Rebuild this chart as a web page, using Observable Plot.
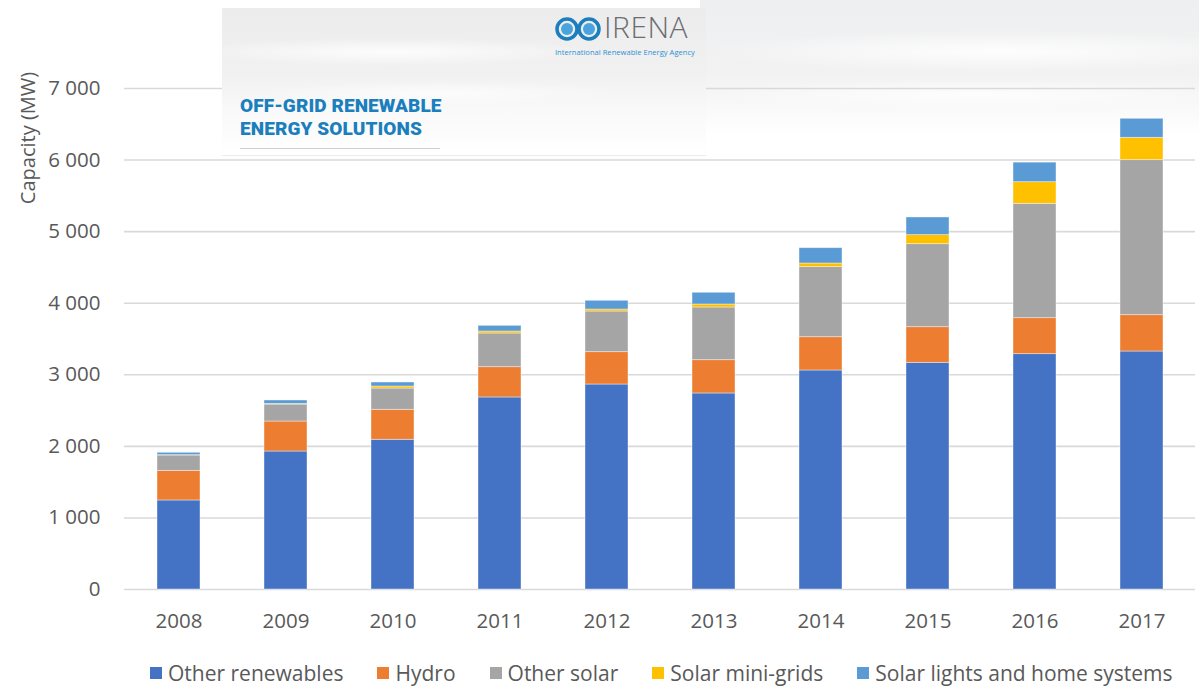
<!DOCTYPE html>
<html>
<head>
<meta charset="utf-8">
<script src="https://cdn.jsdelivr.net/npm/d3@7"></script>
<script src="https://cdn.jsdelivr.net/npm/@observablehq/plot@0.6"></script>
<style>
  html, body { margin: 0; padding: 0; background: #ffffff; }
  body { width: 1199px; height: 686px; position: relative; overflow: hidden; font-family: "Open Sans", sans-serif; }
  #bgwave { position: absolute; left: 700px; top: 0; width: 499px; height: 135px;
    background:
      radial-gradient(ellipse 420px 30px at 60% 38%, rgba(255,255,255,0.9), rgba(255,255,255,0) 70%),
      radial-gradient(ellipse 380px 22px at 55% 70%, rgba(255,255,255,0.8), rgba(255,255,255,0) 70%),
      linear-gradient(180deg, #eeeff0 0%, #f2f2f3 55%, #ffffff 100%);
    z-index: 0; }
  #chart { position: absolute; left: 0; top: 0; z-index: 1; }
  #banner { position: absolute; left: 222px; top: 8px; width: 484px; height: 147px; z-index: 2;
    background:
      radial-gradient(ellipse 300px 20px at 35% 30%, rgba(255,255,255,0.85), rgba(255,255,255,0) 70%),
      radial-gradient(ellipse 260px 18px at 45% 58%, rgba(255,255,255,0.7), rgba(255,255,255,0) 70%),
      linear-gradient(180deg, #ececed 0%, #f1f1f2 45%, #f9f9f9 70%, #ffffff 100%);
    border-bottom: 1px solid #ececec; }
  #title1, #title2 { position: absolute; left: 18px; font-family: Roboto, sans-serif; font-weight: 900;
    font-size: 19px; line-height: 20px; color: #1b7fbd; letter-spacing: 0.1px; white-space: nowrap; }
  #title1 { top: 88px; }
  #title2 { top: 111px; }
  #uline { position: absolute; left: 18px; top: 140px; width: 200px; height: 1px; background: #cfcfcf; }
  #logo { position: absolute; left: 332px; top: 8px; }
  #irena { position: absolute; left: 382px; top: 3.5px; font-family: "Open Sans", sans-serif; font-weight: 300;
    font-size: 30px; line-height: 30px; color: #6b6d70; letter-spacing: 0.5px; }
  #agency { position: absolute; left: 333px; top: 40px; font-family: "Open Sans", sans-serif; font-size: 7.6px; line-height: 9px;
    color: #2f8fcf; white-space: nowrap; }
  #ylabel { position: absolute; left: 28px; top: 138px; transform: translate(-50%, -50%) rotate(-90deg);
    font-size: 20px; line-height: 24px; color: #595959; white-space: nowrap; z-index: 3; }
  #legend { position: absolute; left: 150px; top: 659px; display: flex; gap: 34px; font-size: 21px; line-height: 28px; color: #595959; z-index: 3; }
  #legend .item { display: flex; align-items: center; white-space: nowrap; }
  #legend .sw { width: 12px; height: 12px; margin-right: 6px; }
</style>
</head>
<body>
<div id="bgwave"></div>
<div id="chart"></div>
<div id="banner">
  <svg id="logo" width="50" height="30" viewBox="0 0 50 30">
    <circle cx="13" cy="13" r="10" fill="none" stroke="#1b7fbd" stroke-width="3.5"/>
    <circle cx="35" cy="13" r="10" fill="none" stroke="#1b7fbd" stroke-width="3.5"/>
    <circle cx="13" cy="13" r="6" fill="#4aa3dc"/>
    <circle cx="35" cy="13" r="6" fill="#4aa3dc"/>
  </svg>
  <div id="irena">IRENA</div>
  <div id="agency">International Renewable Energy Agency</div>
  <div id="title1">OFF-GRID RENEWABLE</div>
  <div id="title2">ENERGY SOLUTIONS</div>
  <div id="uline"></div>
</div>
<div id="ylabel">Capacity (MW)</div>
<div id="legend"></div>
<script>
const years = ["2008","2009","2010","2011","2012","2013","2014","2015","2016","2017"];
const seriesNames = ["Other renewables","Hydro","Other solar","Solar mini-grids","Solar lights and home systems"];
const seriesColors = ["#4472C4","#ED7D31","#A5A5A5","#FFC000","#5B9BD5"];
const otherRenewables = [1244, 1928, 2092, 2683, 2864, 2739, 3060, 3167, 3288, 3325];
const hydro           = [414, 419, 419, 423, 452, 465, 465, 498, 503, 508];
const otherSolar      = [214, 237, 297, 471, 568, 736, 979, 1160, 1598, 2166];
const solarMiniGrids  = [5, 9, 28, 28, 28, 42, 51, 126, 302, 312];
const solarLights     = [33, 48, 56, 79, 122, 164, 214, 247, 273, 266];
const yTicks = [0, 1000, 2000, 3000, 4000, 5000, 6000, 7000];

const seriesValues = [otherRenewables, hydro, otherSolar, solarMiniGrids, solarLights];
const data = [];
seriesNames.forEach((name, si) => {
  years.forEach((yr, i) => data.push({year: yr, series: name, value: seriesValues[si][i]}));
});

const fmt = d => d3.format(",")(d).replace(/,/g, " ");

const chart = Plot.plot({
  width: 1199,
  height: 650,
  marginLeft: 124,
  marginRight: 4,
  marginTop: 88,
  marginBottom: 61,
  style: {background: "transparent", fontFamily: "'Open Sans', sans-serif", fontSize: "20.5px", color: "#595959"},
  x: {domain: years, paddingInner: 0.6, paddingOuter: 0.3, label: null, tickSize: 0},
  y: {domain: [0, 7000], ticks: yTicks, tickFormat: fmt, label: null, tickSize: 0},
  color: {domain: seriesNames, range: seriesColors},
  marks: [
    Plot.gridY(yTicks, {stroke: "#d9d9d9", strokeOpacity: 1, strokeWidth: 1.6}),
    Plot.barY(data, Plot.stackY({order: null}, {x: "year", y: "value", fill: "series", stroke: "#ffffff", strokeOpacity: 0.5, strokeWidth: 0.8})),
    Plot.axisX({tickSize: 0, tickPadding: 24, fill: "#595959"}),
    Plot.axisY({ticks: yTicks, tickFormat: fmt, tickSize: 0, tickPadding: 24, fill: "#595959"})
  ]
});
document.getElementById("chart").appendChild(chart);

const legend = document.getElementById("legend");
seriesNames.forEach((name, i) => {
  const item = document.createElement("div");
  item.className = "item";
  const sw = document.createElement("span");
  sw.className = "sw";
  sw.style.background = seriesColors[i];
  const t = document.createElement("span");
  t.textContent = name;
  item.appendChild(sw);
  item.appendChild(t);
  legend.appendChild(item);
});
</script>
</body>
</html>
